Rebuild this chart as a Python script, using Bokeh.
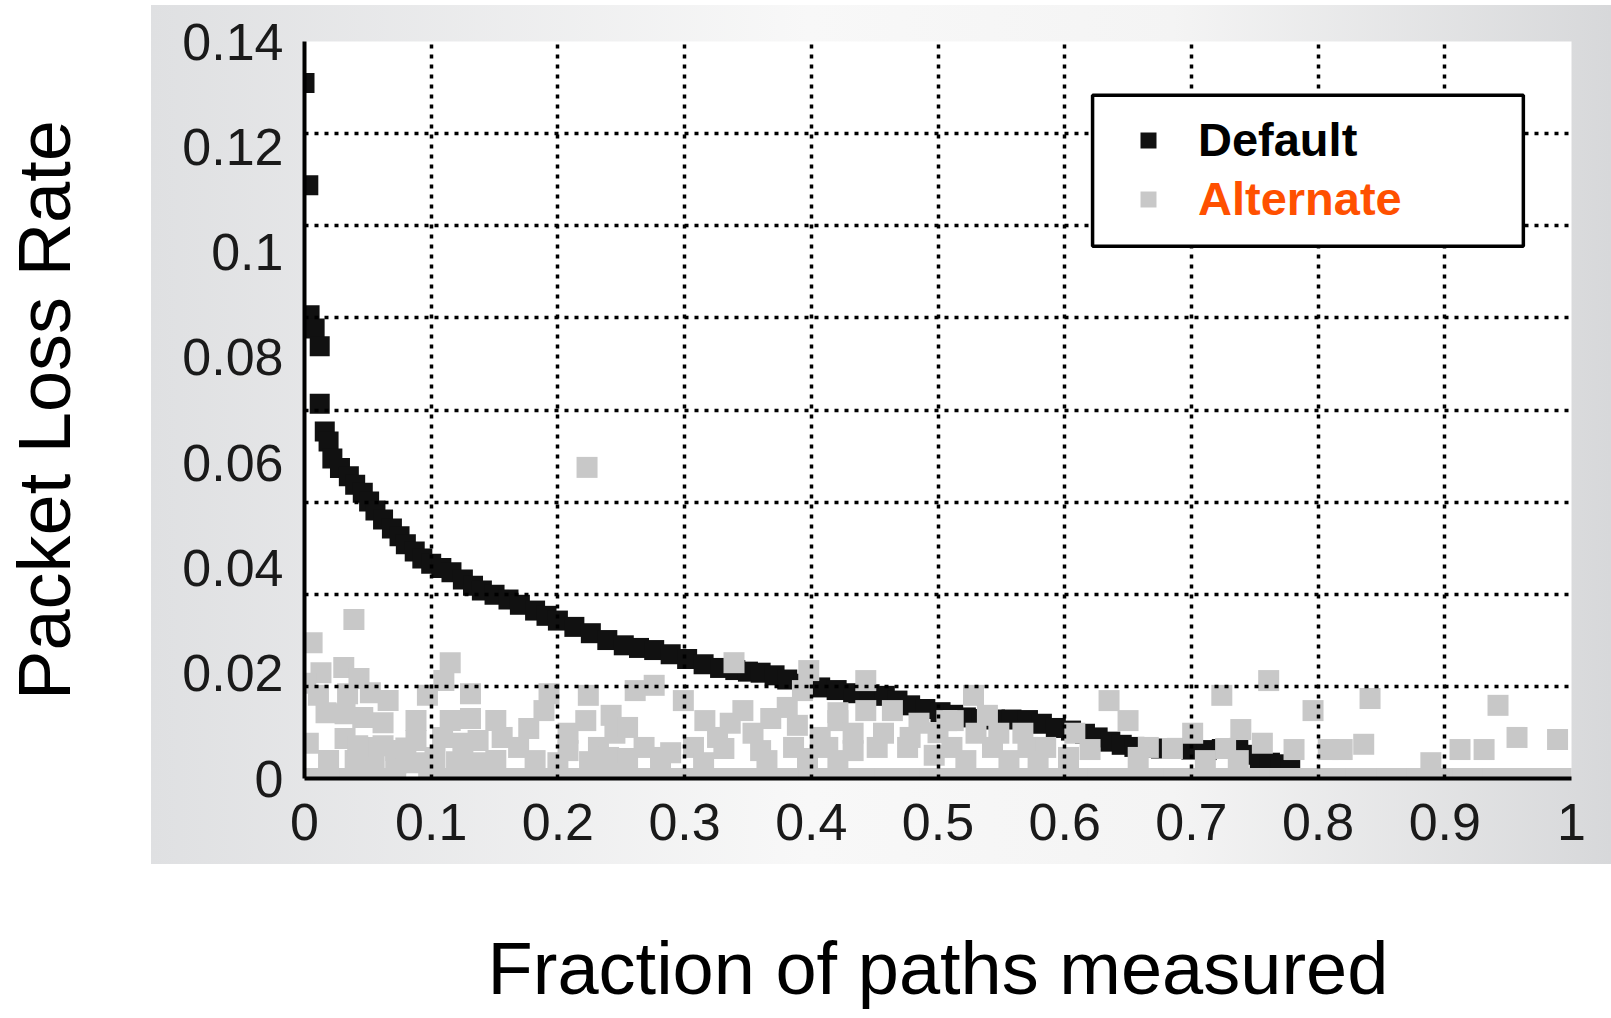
from bokeh.plotting import figure
from bokeh.models import (FixedTicker, CustomJSTickFormatter, Legend, LegendItem,
                          BoxAnnotation, Range1d)
from bokeh.core.properties import value
from bokeh.embed import file_html
from bokeh.resources import INLINE

# ---------------- data ----------------
x_ticks = [0, 0.1, 0.2, 0.3, 0.4, 0.5, 0.6, 0.7, 0.8, 0.9, 1]
y_ticks = [0, 0.02, 0.04, 0.06, 0.08, 0.1, 0.12, 0.14]

default_x = [0.0, 0.003, 0.004, 0.008, 0.012, 0.012, 0.016, 0.019, 0.022, 0.028,
             0.035, 0.040, 0.046, 0.051, 0.056, 0.062, 0.069, 0.075, 0.080, 0.087,
             0.093, 0.100, 0.108, 0.116, 0.125, 0.133, 0.140, 0.150, 0.161, 0.170,
             0.182, 0.191, 0.200, 0.213, 0.226, 0.239, 0.252, 0.264, 0.276, 0.289,
             0.302, 0.315, 0.328, 0.340, 0.350, 0.360, 0.371, 0.381, 0.394, 0.407,
             0.420, 0.433, 0.446, 0.458, 0.468, 0.478, 0.490, 0.502, 0.512, 0.522,
             0.534, 0.545, 0.558, 0.571, 0.582, 0.593, 0.605, 0.616, 0.626, 0.636,
             0.645, 0.655, 0.665, 0.676, 0.688, 0.700, 0.712, 0.724, 0.737, 0.746,
             0.754, 0.762, 0.770, 0.778]
default_y = [0.1321, 0.1127, 0.0880, 0.0855, 0.0821, 0.0712, 0.0659, 0.0640, 0.0608, 0.0590,
             0.0574, 0.0558, 0.0543, 0.0526, 0.0509, 0.0492, 0.0475, 0.0460, 0.0445, 0.0431,
             0.0418, 0.0408, 0.0400, 0.0392, 0.0378, 0.0366, 0.0357, 0.0349, 0.0340, 0.0330,
             0.0319, 0.0309, 0.0300, 0.0288, 0.0276, 0.0263, 0.0253, 0.0248, 0.0244, 0.0236,
             0.0227, 0.0217, 0.0210, 0.0206, 0.0203, 0.0201, 0.0196, 0.0188, 0.0180, 0.0173,
             0.0168, 0.0162, 0.0160, 0.0157, 0.0148, 0.0139, 0.0132, 0.0126, 0.0121, 0.0116,
             0.0113, 0.0112, 0.0112, 0.0111, 0.0104, 0.0096, 0.0091, 0.0085, 0.0078, 0.0070,
             0.0064, 0.0060, 0.0058, 0.0057, 0.0058, 0.0055, 0.0054, 0.0056, 0.0058, 0.0045,
             0.0036, 0.0030, 0.0027, 0.0025]

alternate_x = [
    0.039, 0.006, 0.115, 0.013, 0.031, 0.043, 0.001, 0.110, 0.011, 0.034,
    0.052, 0.066, 0.097, 0.131, 0.193, 0.224, 0.189, 0.017, 0.032, 0.046,
    0.062, 0.088, 0.115, 0.131, 0.151, 0.177, 0.222, 0.242, 0.003, 0.032,
    0.052, 0.072, 0.088, 0.109, 0.125, 0.137, 0.156, 0.169, 0.208, 0.208,
    0.232, 0.245, 0.019, 0.072, 0.103, 0.151, 0.182, 0.240, 0.040, 0.055,
    0.088, 0.120, 0.135, 0.200, 0.225, 0.042, 0.062, 0.080, 0.223,
    0.339, 0.398, 0.443, 0.276, 0.261, 0.393, 0.299, 0.346, 0.381, 0.421,
    0.443, 0.464, 0.255, 0.316, 0.336, 0.368, 0.389, 0.421, 0.485, 0.507,
    0.326, 0.354, 0.407, 0.433, 0.457, 0.478, 0.500, 0.268, 0.289, 0.307,
    0.331, 0.360, 0.386, 0.413, 0.433, 0.452, 0.476, 0.497, 0.255, 0.315,
    0.365, 0.421, 0.281, 0.397,
    0.528, 0.635, 0.539, 0.650, 0.512, 0.761, 0.724, 0.739, 0.701, 0.608,
    0.530, 0.548, 0.567, 0.511, 0.543, 0.571, 0.585, 0.620, 0.666, 0.685,
    0.727, 0.756, 0.522, 0.556, 0.579, 0.658, 0.711, 0.737, 0.603,
    0.841, 0.796, 0.942, 0.957, 0.989, 0.781, 0.808, 0.819, 0.836, 0.912,
    0.931, 0.889]
alternate_y = [
    0.0302, 0.0258, 0.0220, 0.0201, 0.0211, 0.0190, 0.0181, 0.0186, 0.0158, 0.0161,
    0.0163, 0.0148, 0.0158, 0.0161, 0.0161, 0.0158, 0.0129, 0.0125, 0.0123, 0.0116,
    0.0106, 0.0110, 0.0110, 0.0114, 0.0110, 0.0095, 0.0110, 0.0120, 0.0067, 0.0076,
    0.0059, 0.0053, 0.0072, 0.0078, 0.0067, 0.0072, 0.0078, 0.0059, 0.0086, 0.0053,
    0.0059, 0.0086, 0.0034, 0.0029, 0.0040, 0.0034, 0.0034, 0.0040, 0.0034, 0.0030,
    0.0030, 0.0032, 0.0030, 0.0030, 0.0032, 0.0062, 0.0062, 0.0058, 0.0591,
    0.0220, 0.0205, 0.0186, 0.0177, 0.0167, 0.0167, 0.0148, 0.0129, 0.0135, 0.0125,
    0.0129, 0.0129, 0.0097, 0.0110, 0.0105, 0.0114, 0.0101, 0.0110, 0.0105, 0.0110,
    0.0078, 0.0086, 0.0078, 0.0086, 0.0086, 0.0078, 0.0087, 0.0059, 0.0049, 0.0059,
    0.0057, 0.0053, 0.0059, 0.0059, 0.0053, 0.0059, 0.0059, 0.0044, 0.0038, 0.0030,
    0.0034, 0.0034, 0.0040, 0.0038,
    0.0158, 0.0148, 0.0120, 0.0110, 0.0110, 0.0186, 0.0158, 0.0093, 0.0086, 0.0086,
    0.0086, 0.0086, 0.0086, 0.0059, 0.0059, 0.0059, 0.0059, 0.0055, 0.0059, 0.0057,
    0.0057, 0.0067, 0.0034, 0.0034, 0.0034, 0.0040, 0.0034, 0.0034, 0.0040,
    0.0152, 0.0129, 0.0139, 0.0078, 0.0074, 0.0055, 0.0055, 0.0055, 0.0065, 0.0055,
    0.0055, 0.0030]

# alternate paths with zero measured loss
alternate_zero_x = [
    0.0, 0.012, 0.024, 0.036, 0.048, 0.06, 0.072, 0.098, 0.11, 0.122,
    0.134, 0.146, 0.158, 0.17, 0.182, 0.194, 0.206, 0.218, 0.23, 0.242,
    0.254, 0.266, 0.278, 0.29, 0.302, 0.314, 0.326, 0.338, 0.35, 0.362,
    0.374, 0.386, 0.398, 0.41, 0.422, 0.434, 0.446, 0.458, 0.47, 0.482,
    0.494, 0.506, 0.518, 0.53, 0.542, 0.554, 0.566, 0.578, 0.59, 0.602,
    0.614, 0.626, 0.638, 0.65, 0.662, 0.674, 0.686, 0.698, 0.71, 0.722,
    0.734, 0.746, 0.758, 0.77, 0.782, 0.794, 0.806, 0.818, 0.83, 0.842,
    0.854, 0.866, 0.878, 0.89, 0.902, 0.914, 0.926, 0.938, 0.95, 0.962,
    0.974, 0.986, 0.998]
alternate_zero_y = [
    0.0, 0.0, 0.0, 0.0, 0.0, 0.0, 0.0, 0.0, 0.0, 0.0,
    0.0, 0.0, 0.0, 0.0, 0.0, 0.0, 0.0, 0.0, 0.0, 0.0,
    0.0, 0.0, 0.0, 0.0, 0.0, 0.0, 0.0, 0.0, 0.0, 0.0,
    0.0, 0.0, 0.0, 0.0, 0.0, 0.0, 0.0, 0.0, 0.0, 0.0,
    0.0, 0.0, 0.0, 0.0, 0.0, 0.0, 0.0, 0.0, 0.0, 0.0,
    0.0, 0.0, 0.0, 0.0, 0.0, 0.0, 0.0, 0.0, 0.0, 0.0,
    0.0, 0.0, 0.0, 0.0, 0.0, 0.0, 0.0, 0.0, 0.0, 0.0,
    0.0, 0.0, 0.0, 0.0, 0.0, 0.0, 0.0, 0.0, 0.0, 0.0,
    0.0, 0.0, 0.0]

x_title = "Fraction of paths measured"
y_title = "Packet Loss Rate"

# ---------------- figure ----------------
FONT = "Liberation Sans"

p = figure(frame_width=1267, frame_height=737,
           min_border_left=304, min_border_right=40,
           min_border_top=41, min_border_bottom=240,
           x_range=Range1d(0, 1), y_range=Range1d(0, 0.14),
           output_backend="svg", toolbar_location=None,
           background_fill_color="white", border_fill_alpha=0,
           outline_line_color=None)

p.styles = {
    "background": "linear-gradient(to right, #dfe0e2 0%, #f8f8f8 45%, #f4f4f4 70%, #d7d8da 100%) 151px 5px / 1460px 859px no-repeat"
}

r_def = p.scatter(default_x, default_y, marker="square", size=20,
                  fill_color="#111111", line_color=None)
r_alt = p.scatter(alternate_x + alternate_zero_x, alternate_y + alternate_zero_y,
                  marker="square", size=21, fill_color="#c8c8c8", line_color=None)

fmt = "return String(tick);"
for ax, ticks in ((p.xaxis, x_ticks), (p.yaxis, y_ticks)):
    ax.ticker = FixedTicker(ticks=ticks)
    ax.formatter = CustomJSTickFormatter(code=fmt)
    ax.axis_line_width = 4
    ax.axis_line_color = "black"
    ax.major_tick_line_color = None
    ax.minor_tick_line_color = None
    ax.major_label_text_font = FONT
    ax.major_label_text_font_size = "52px"
    ax.major_label_text_color = "#1a1a1a"
    ax.axis_label_text_font = FONT
    ax.axis_label_text_font_size = "74px"
    ax.axis_label_text_font_style = "normal"
    ax.axis_label_text_color = "black"

p.xaxis.axis_label = x_title
p.yaxis.axis_label = y_title
p.xaxis.major_label_standoff = 19
p.yaxis.major_label_standoff = 15
p.xaxis.axis_label_standoff = 84
p.yaxis.axis_label_standoff = 93

p.xgrid.ticker = FixedTicker(ticks=[0.1, 0.2, 0.3, 0.4, 0.5, 0.6, 0.7, 0.8, 0.9, 1.0])
p.ygrid.ticker = FixedTicker(ticks=[0.0175, 0.035, 0.0525, 0.07, 0.0875, 0.105, 0.1225, 0.14])
for g in (p.xgrid, p.ygrid):
    g.grid_line_color = "black"
    g.grid_line_width = 3.5
    g.grid_line_dash = "4 6"
    g.level = "guide"

# legend frame
box = BoxAnnotation(left=0.622, right=0.962, top=0.1298, bottom=0.1011,
                    fill_color="white", fill_alpha=1.0,
                    line_color="black", line_alpha=1.0, line_width=3.5)
p.add_layout(box)

common = dict(padding=0, margin=0, spacing=0, border_line_alpha=0,
              background_fill_alpha=0, glyph_width=40, glyph_height=40,
              label_standoff=30, label_text_font=FONT,
              label_text_font_style="bold", label_text_font_size="47px",
              label_text_baseline="middle")
leg1 = Legend(items=[LegendItem(label=value("Default"), renderers=[r_def])],
              location=(824, 611), label_text_color="black", **common)
leg2 = Legend(items=[LegendItem(label=value("Alternate"), renderers=[r_alt])],
              location=(824, 552), label_text_color="#ff5000", **common)
p.add_layout(leg1)
p.add_layout(leg2)

open("out.html", "w").write(file_html(p, INLINE))
